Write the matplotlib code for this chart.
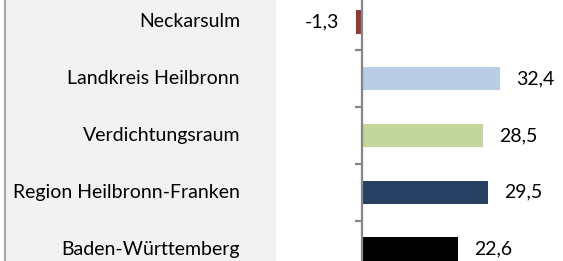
import matplotlib.pyplot as plt
from matplotlib.patches import Rectangle
from matplotlib.lines import Line2D
import matplotlib.transforms as mtransforms

# Daten
regions = ["Neckarsulm", "Landkreis Heilbronn", "Verdichtungsraum",
           "Region Heilbronn-Franken", "Baden-Württemberg"]
values = [-1.3, 32.4, 28.5, 29.5, 22.6]
value_labels = ["-1,3", "32,4", "28,5", "29,5", "22,6"]
colors = ["#953735", "#b9cde5", "#c3d69b", "#264061", "#000000"]

plt.rcParams['font.family'] = ['Lato', 'DejaVu Sans']

W, H = 563, 261
fig = plt.figure(figsize=(W / 100, H / 100), dpi=100)

# grauer Hintergrund links + Randlinie
fig.patches.append(Rectangle((6 / W, 0), 270 / W, 1, transform=fig.transFigure,
                             facecolor="#f2f2f2", edgecolor="none", zorder=-5))
fig.lines.append(Line2D([4.5 / W, 4.5 / W], [0, 1], transform=fig.transFigure,
                        color="#a6a6a6", linewidth=1.5, zorder=-4))

# Achse (Nulllinie bei x=362px, 4.26 px pro Einheit)
px_per_unit = 4.26
left_px = 300
ax_left = left_px / W
ax_width = (W - left_px) / W
xmin = -(362 - left_px) / px_per_unit
xmax = xmin + (W - left_px) / px_per_unit
ax = fig.add_axes([ax_left, -16.4 / H, ax_width, 283.8 / H])
ax.patch.set_alpha(0)

y = list(range(len(regions)))
ax.barh(y, values, height=0.41, color=colors, zorder=2)
ax.set_xlim(xmin, xmax)
ax.set_ylim(len(regions) - 0.5, -0.5)

for s in ["top", "right", "bottom"]:
    ax.spines[s].set_visible(False)
ax.spines["left"].set_position(("data", 0))
ax.spines["left"].set_color("#868686")
ax.spines["left"].set_linewidth(1.6)
ax.spines["left"].set_zorder(3)
ax.set_xticks([])
ax.set_yticks([i + 0.5 for i in range(len(regions) - 1)])
ax.set_yticklabels([])
ax.tick_params(axis="y", direction="out", length=5, width=1.6, color="#868686")

# Kategorienamen im grauen Feld
trans = mtransforms.blended_transform_factory(fig.transFigure, ax.transData)
for i, name in enumerate(regions):
    ax.text(240 / W, i, name, transform=trans, ha="right", va="center",
            fontsize=14, color="#000000")

# Wertebeschriftung
for i, (v, lab) in enumerate(zip(values, value_labels)):
    if v >= 0:
        ax.annotate(lab, (v, i), xytext=(16, 0), textcoords="offset pixels",
                    ha="left", va="center", fontsize=14)
    else:
        ax.annotate(lab, (v, i), xytext=(-17, 0), textcoords="offset pixels",
                    ha="right", va="center", fontsize=14)

fig.savefig("out.png", dpi=100)
